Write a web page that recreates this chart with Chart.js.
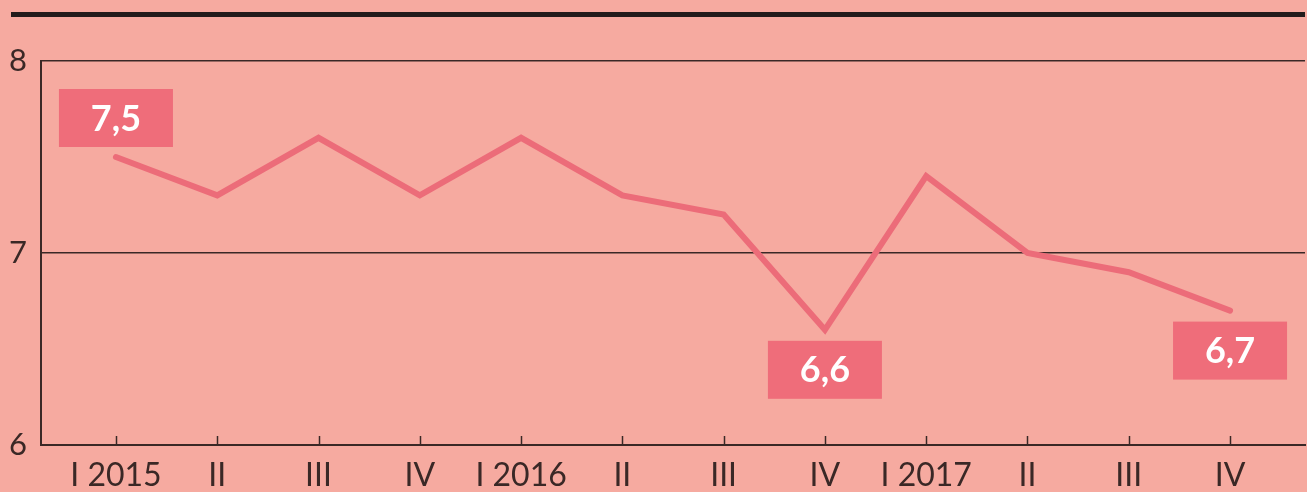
<!DOCTYPE html>
<html>
<head>
<meta charset="utf-8">
<script src="https://cdn.jsdelivr.net/npm/chart.js@4/dist/chart.umd.min.js"></script>
<style>
  body { margin: 0; background: #f6aaa0; }
  #wrap { position: relative; width: 1307px; height: 492px; }
  #topbar { position: absolute; left: 11px; top: 12px; width: 1294px; height: 5px; background: #231c1c; }
  canvas { position: absolute; left: 0; top: 0; }
</style>
</head>
<body>
<div id="wrap">
  <canvas id="myChart" width="1307" height="492"></canvas>
  <div id="topbar"></div>
</div>
<script>
const quarters = ['I 2015', 'II', 'III', 'IV', 'I 2016', 'II', 'III', 'IV', 'I 2017', 'II', 'III', 'IV'];
const rates = [7.5, 7.3, 7.6, 7.3, 7.6, 7.3, 7.2, 6.6, 7.4, 7.0, 6.9, 6.7];
const yTicks = [6, 7, 8];
const labelled = [0, 7, 11];

const ink = '#3a2826';
const lineColor = '#ec6c79';
const boxColor = '#ef6d7a';

// value boxes + inward tick marks, placed via chart scales
const extras = {
    id: 'extras',
    afterDatasetsDraw(chart) {
        const c = chart.ctx;
        const xs = chart.scales.x;
        const ys = chart.scales.y;
        c.save();
        c.strokeStyle = ink;
        c.lineWidth = 1.5;
        quarters.forEach((q, i) => {
            const px = Math.round(xs.getPixelForValue(i)) + 0.5;
            c.beginPath();
            c.moveTo(px, ys.bottom);
            c.lineTo(px, ys.bottom - 9);
            c.stroke();
        });
        c.font = 'bold 36px Lato';
        c.textAlign = 'center';
        c.textBaseline = 'middle';
        labelled.forEach(i => {
            const px = xs.getPixelForValue(i);
            const py = ys.getPixelForValue(rates[i]);
            const cy = i === 0 ? py - 39 : py + 40;
            c.fillStyle = boxColor;
            c.fillRect(px - 57, cy - 29, 114, 58);
            c.fillStyle = '#ffffff';
            c.fillText(rates[i].toFixed(1).replace('.', ','), px, cy + 1);
        });
        c.restore();
    }
};

const ctx = document.getElementById('myChart').getContext('2d');
const myChart = new Chart(ctx, {
    type: 'line',
    data: {
        datasets: [{
            data: rates.map((v, i) => ({ x: i, y: v })),
            borderColor: lineColor,
            borderWidth: 6,
            borderJoinStyle: 'miter',
            borderCapStyle: 'round',
            pointRadius: 0,
            tension: 0
        }]
    },
    options: {
        responsive: false,
        animation: false,
        layout: { padding: { top: 61, right: 2, left: 0, bottom: 0 } },
        plugins: { legend: { display: false }, tooltip: { enabled: false } },
        scales: {
            x: {
                type: 'linear',
                min: -0.74,
                max: 11.74,
                afterBuildTicks: s => { s.ticks = quarters.map((q, i) => ({ value: i })); },
                afterFit: s => { s.height = 47; },
                grid: { display: false, drawTicks: false },
                border: { color: ink, width: 2 },
                ticks: {
                    autoSkip: false,
                    maxRotation: 0,
                    padding: 11,
                    color: ink,
                    font: { family: 'Lato', size: 32 },
                    callback: v => quarters[v]
                }
            },
            y: {
                min: 6,
                max: 8,
                afterBuildTicks: s => { s.ticks = yTicks.map(v => ({ value: v })); },
                afterFit: s => { s.width = 41; },
                grid: { color: ink, lineWidth: 1.5, drawTicks: false },
                border: { color: ink, width: 2 },
                ticks: {
                    padding: 14,
                    color: ink,
                    font: { family: 'Lato', size: 31 }
                }
            }
        }
    },
    plugins: [extras]
});
</script>
</body>
</html>
